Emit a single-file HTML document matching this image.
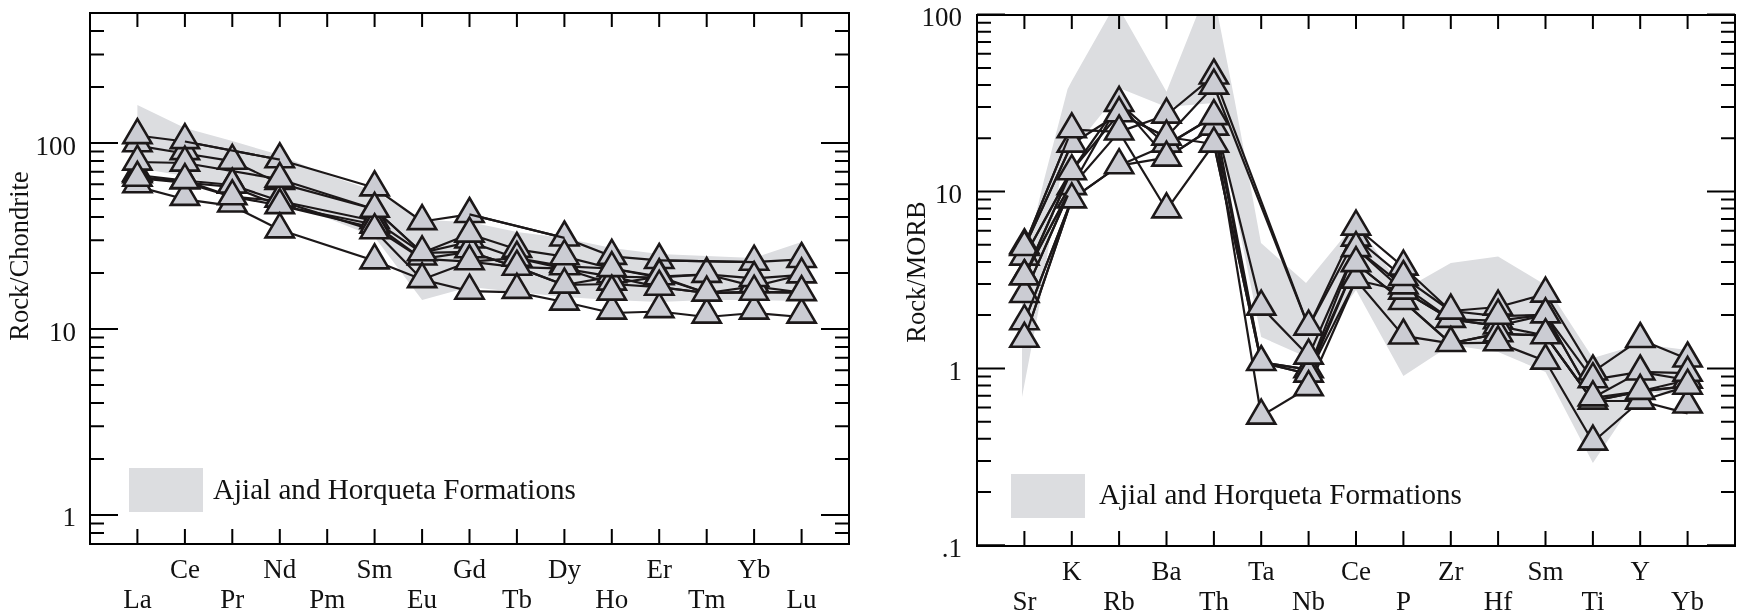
<!DOCTYPE html><html><head><meta charset="utf-8"><style>html,body{margin:0;padding:0;background:#fff;overflow:hidden}svg{display:block} text{-webkit-font-smoothing:antialiased} .t{will-change:transform}</style></head><body>
<svg class="t" width="1745" height="616" viewBox="0 0 1745 616">
<rect width="1745" height="616" fill="#fff"/>
<clipPath id="c90"><rect x="90" y="13" width="759" height="531"/></clipPath>
<polygon clip-path="url(#c90)" points="137.4,105.0 184.9,128.0 232.3,141.0 279.8,155.0 327.2,175.0 374.6,191.0 422.1,220.0 469.5,222.0 516.9,232.0 564.4,238.0 611.8,248.0 659.2,254.0 706.7,256.0 754.1,258.0 801.6,242.0 801.6,301.0 754.1,300.0 706.7,300.0 659.2,302.0 611.8,300.0 564.4,297.0 516.9,292.0 469.5,287.0 422.1,300.0 374.6,237.0 327.2,218.0 279.8,200.0 232.3,190.0 184.9,176.0 137.4,168.0" fill="#dcdde0"/>
<path d="M137.4,135.5L184.9,141.5L279.8,159.7L374.6,187.8L422.1,221.5L469.5,214.4L564.4,237.9L611.8,256.3L659.2,260.4L754.1,262.1L801.6,259.4" fill="none" stroke="#1c1819" stroke-width="2.2" stroke-linejoin="round"/>
<path d="M137.4,145.7L184.9,153.5L232.3,161.2L279.8,183.4L374.6,209.2L422.1,252.8L469.5,234.0L516.9,249.3L564.4,256.6L611.8,268.5L659.2,276.6L706.7,274.3L754.1,278.4L801.6,274.8" fill="none" stroke="#1c1819" stroke-width="2.2" stroke-linejoin="round"/>
<path d="M137.4,162.0L184.9,163.0L279.8,179.2L374.6,209.2L422.1,252.8L469.5,241.9L516.9,258.2L564.4,266.3L611.8,268.5L659.2,277.5L706.7,274.3L754.1,286.4L801.6,274.8" fill="none" stroke="#1c1819" stroke-width="2.2" stroke-linejoin="round"/>
<path d="M137.4,175.0L184.9,180.5L232.3,185.0L279.8,201.0L374.6,221.0L422.1,252.8L469.5,251.8L516.9,267.1L564.4,268.7L611.8,276.6L659.2,277.5L706.7,293.0L754.1,292.1L801.6,292.5" fill="none" stroke="#1c1819" stroke-width="2.2" stroke-linejoin="round"/>
<path d="M137.4,176.5L184.9,182.7L232.3,187.0L279.8,205.5L374.6,224.5L422.1,258.9L469.5,251.8L516.9,267.1L564.4,285.0L611.8,276.6L659.2,287.1L706.7,293.0L754.1,292.1L801.6,292.5" fill="none" stroke="#1c1819" stroke-width="2.2" stroke-linejoin="round"/>
<path d="M137.4,178.2L184.9,180.5L232.3,196.7L279.8,205.5L374.6,228.0L422.1,258.9L469.5,261.7L516.9,267.1L564.4,285.0L611.8,284.0L659.2,287.1L706.7,293.0L754.1,286.4L801.6,292.5" fill="none" stroke="#1c1819" stroke-width="2.2" stroke-linejoin="round"/>
<path d="M137.4,178.2L184.9,182.7L232.3,196.7L279.8,201.0L374.6,230.6L422.1,279.5L469.5,261.7L516.9,258.2L564.4,268.7L611.8,284.0L659.2,276.6L706.7,293.0L754.1,292.1L801.6,292.5" fill="none" stroke="#1c1819" stroke-width="2.2" stroke-linejoin="round"/>
<path d="M137.4,186.6L184.9,199.3L232.3,205.9L279.8,229.8L374.6,260.8L422.1,279.5L469.5,291.1L516.9,292.3L564.4,302.0L611.8,313.0L659.2,311.5L706.7,317.0L754.1,313.0L801.6,317.0" fill="none" stroke="#1c1819" stroke-width="2.2" stroke-linejoin="round"/>
<g fill="#cbccd3" stroke="#1c1819" stroke-width="2.6" stroke-linejoin="miter">
<path d="M137.4,168.2L151.5,192.2L123.3,192.2Z"/>
<path d="M137.4,127.3L151.5,151.3L123.3,151.3Z"/>
<path d="M137.4,119.1L151.5,143.1L123.3,143.1Z"/>
<path d="M137.4,156.6L151.5,180.6L123.3,180.6Z"/>
<path d="M137.4,158.1L151.5,182.1L123.3,182.1Z"/>
<path d="M137.4,145.6L151.5,169.6L123.3,169.6Z"/>
<path d="M137.4,161.8L151.5,185.8L123.3,185.8Z"/>
<path d="M184.9,135.1L199.0,159.1L170.8,159.1Z"/>
<path d="M184.9,164.3L199.0,188.3L170.8,188.3Z"/>
<path d="M184.9,180.9L199.0,204.9L170.8,204.9Z"/>
<path d="M184.9,124.1L199.0,148.1L170.8,148.1Z"/>
<path d="M184.9,146.6L199.0,170.6L170.8,170.6Z"/>
<path d="M184.9,164.1L199.0,188.1L170.8,188.1Z"/>
<path d="M232.3,187.5L246.4,211.5L218.2,211.5Z"/>
<path d="M232.3,168.6L246.4,192.6L218.2,192.6Z"/>
<path d="M232.3,144.8L246.4,168.8L218.2,168.8Z"/>
<path d="M232.3,168.6L246.4,192.6L218.2,192.6Z"/>
<path d="M232.3,180.3L246.4,204.3L218.2,204.3Z"/>
<path d="M279.8,165.0L293.9,189.0L265.6,189.0Z"/>
<path d="M279.8,182.6L293.9,206.6L265.6,206.6Z"/>
<path d="M279.8,143.3L293.9,167.3L265.6,167.3Z"/>
<path d="M279.8,162.8L293.9,186.8L265.6,186.8Z"/>
<path d="M279.8,189.1L293.9,213.1L265.6,213.1Z"/>
<path d="M279.8,213.4L293.9,237.4L265.6,237.4Z"/>
<path d="M374.6,204.1L388.7,228.1L360.5,228.1Z"/>
<path d="M374.6,208.6L388.7,232.6L360.5,232.6Z"/>
<path d="M374.6,171.4L388.7,195.4L360.5,195.4Z"/>
<path d="M374.6,192.8L388.7,216.8L360.5,216.8Z"/>
<path d="M374.6,214.2L388.7,238.2L360.5,238.2Z"/>
<path d="M374.6,244.4L388.7,268.4L360.5,268.4Z"/>
<path d="M422.1,240.5L436.2,264.5L408.0,264.5Z"/>
<path d="M422.1,205.1L436.2,229.1L408.0,229.1Z"/>
<path d="M422.1,236.3L436.2,260.3L408.0,260.3Z"/>
<path d="M422.1,263.1L436.2,287.1L408.0,287.1Z"/>
<path d="M469.5,223.5L483.6,247.5L455.4,247.5Z"/>
<path d="M469.5,233.3L483.6,257.3L455.4,257.3Z"/>
<path d="M469.5,198.0L483.6,222.0L455.4,222.0Z"/>
<path d="M469.5,217.6L483.6,241.6L455.4,241.6Z"/>
<path d="M469.5,245.3L483.6,269.3L455.4,269.3Z"/>
<path d="M469.5,274.7L483.6,298.7L455.4,298.7Z"/>
<path d="M516.9,232.9L531.0,256.9L502.8,256.9Z"/>
<path d="M516.9,241.8L531.0,265.8L502.8,265.8Z"/>
<path d="M516.9,250.7L531.0,274.7L502.8,274.7Z"/>
<path d="M516.9,273.9L531.0,297.9L502.8,297.9Z"/>
<path d="M564.4,247.9L578.5,271.9L550.3,271.9Z"/>
<path d="M564.4,250.3L578.5,274.3L550.3,274.3Z"/>
<path d="M564.4,221.5L578.5,245.5L550.3,245.5Z"/>
<path d="M564.4,240.2L578.5,264.2L550.3,264.2Z"/>
<path d="M564.4,285.6L578.5,309.6L550.3,309.6Z"/>
<path d="M564.4,268.6L578.5,292.6L550.3,292.6Z"/>
<path d="M611.8,258.2L625.9,282.2L597.7,282.2Z"/>
<path d="M611.8,265.6L625.9,289.6L597.7,289.6Z"/>
<path d="M611.8,239.9L625.9,263.9L597.7,263.9Z"/>
<path d="M611.8,252.1L625.9,276.1L597.7,276.1Z"/>
<path d="M611.8,294.6L625.9,318.6L597.7,318.6Z"/>
<path d="M611.8,275.6L625.9,299.6L597.7,299.6Z"/>
<path d="M659.2,293.1L673.4,317.1L645.1,317.1Z"/>
<path d="M659.2,244.0L673.4,268.0L645.1,268.0Z"/>
<path d="M659.2,259.1L673.4,283.1L645.1,283.1Z"/>
<path d="M659.2,260.2L673.4,284.2L645.1,284.2Z"/>
<path d="M659.2,270.7L673.4,294.7L645.1,294.7Z"/>
<path d="M706.7,298.6L720.8,322.6L692.6,322.6Z"/>
<path d="M706.7,257.9L720.8,281.9L692.6,281.9Z"/>
<path d="M706.7,276.6L720.8,300.6L692.6,300.6Z"/>
<path d="M754.1,268.0L768.2,292.0L740.0,292.0Z"/>
<path d="M754.1,294.6L768.2,318.6L740.0,318.6Z"/>
<path d="M754.1,245.7L768.2,269.7L740.0,269.7Z"/>
<path d="M754.1,262.0L768.2,286.0L740.0,286.0Z"/>
<path d="M754.1,275.7L768.2,299.7L740.0,299.7Z"/>
<path d="M801.6,298.6L815.7,322.6L787.5,322.6Z"/>
<path d="M801.6,243.0L815.7,267.0L787.5,267.0Z"/>
<path d="M801.6,258.4L815.7,282.4L787.5,282.4Z"/>
<path d="M801.6,276.1L815.7,300.1L787.5,300.1Z"/>
</g>
<path d="M184.9,141.5L279.8,159.7" fill="none" stroke="#1c1819" stroke-width="2.2" stroke-linejoin="round"/>
<path d="M469.5,214.4L564.4,237.9" fill="none" stroke="#1c1819" stroke-width="2.2" stroke-linejoin="round"/>
<path d="M659.2,260.4L754.1,262.1" fill="none" stroke="#1c1819" stroke-width="2.2" stroke-linejoin="round"/>
<rect x="90" y="13" width="759" height="531" fill="none" stroke="#000" stroke-width="2"/>
<path d="M137.4,13V27M137.4,544V529M184.9,13V27M184.9,544V529M232.3,13V27M232.3,544V529M279.8,13V27M279.8,544V529M327.2,13V27M327.2,544V529M374.6,13V27M374.6,544V529M422.1,13V27M422.1,544V529M469.5,13V27M469.5,544V529M516.9,13V27M516.9,544V529M564.4,13V27M564.4,544V529M611.8,13V27M611.8,544V529M659.2,13V27M659.2,544V529M706.7,13V27M706.7,544V529M754.1,13V27M754.1,544V529M801.6,13V27M801.6,544V529M90,514.9H118M849,514.9H821M90,329.0H118M849,329.0H821M90,143.1H118M849,143.1H821M90,532.9H104M849,532.9H835M90,523.4H104M849,523.4H835M90,458.9H104M849,458.9H835M90,426.2H104M849,426.2H835M90,402.9H104M849,402.9H835M90,384.9H104M849,384.9H835M90,370.2H104M849,370.2H835M90,357.7H104M849,357.7H835M90,347.0H104M849,347.0H835M90,337.5H104M849,337.5H835M90,273.0H104M849,273.0H835M90,240.3H104M849,240.3H835M90,217.0H104M849,217.0H835M90,199.0H104M849,199.0H835M90,184.3H104M849,184.3H835M90,171.8H104M849,171.8H835M90,161.1H104M849,161.1H835M90,151.6H104M849,151.6H835M90,87.1H104M849,87.1H835M90,54.4H104M849,54.4H835M90,31.1H104M849,31.1H835M90,13.1H104M849,13.1H835" stroke="#000" stroke-width="2" fill="none"/>
<g font-family='"Liberation Serif", serif' font-size="27" fill="#111">
<text x="184.9" y="577.5" text-anchor="middle">Ce</text>
<text x="279.8" y="577.5" text-anchor="middle">Nd</text>
<text x="374.6" y="577.5" text-anchor="middle">Sm</text>
<text x="469.5" y="577.5" text-anchor="middle">Gd</text>
<text x="564.4" y="577.5" text-anchor="middle">Dy</text>
<text x="659.2" y="577.5" text-anchor="middle">Er</text>
<text x="754.1" y="577.5" text-anchor="middle">Yb</text>
<text x="137.4" y="608" text-anchor="middle">La</text>
<text x="232.3" y="608" text-anchor="middle">Pr</text>
<text x="327.2" y="608" text-anchor="middle">Pm</text>
<text x="422.1" y="608" text-anchor="middle">Eu</text>
<text x="516.9" y="608" text-anchor="middle">Tb</text>
<text x="611.8" y="608" text-anchor="middle">Ho</text>
<text x="706.7" y="608" text-anchor="middle">Tm</text>
<text x="801.6" y="608" text-anchor="middle">Lu</text>
<text x="76" y="526.4" text-anchor="end">1</text>
<text x="76" y="340.5" text-anchor="end">10</text>
<text x="76" y="154.6" text-anchor="end">100</text>
<text transform="translate(28,256) rotate(-90)" text-anchor="middle" font-size="26.5">Rock/Chondrite</text>
</g>
<rect x="129" y="468" width="74" height="44" fill="#dcdde0"/>
<text x="213" y="499" font-family='"Liberation Serif", serif' font-size="29.1" fill="#111">Ajial and Horqueta Formations</text>
<clipPath id="c977"><rect x="977" y="15" width="758" height="531"/></clipPath>
<polygon clip-path="url(#c977)" points="1022.0,397.0 1022.0,300.0 1024.0,271.0 1031.6,232.0 1044.0,180.0 1067.6,89.0 1071.8,81.0 1116.0,3.0 1166.5,91.7 1211.0,-20.0 1234.6,100.0 1261.0,243.0 1306.0,283.0 1356.0,222.0 1403.4,290.0 1450.8,263.0 1498.1,256.5 1545.5,285.0 1592.9,358.0 1640.2,344.0 1687.6,350.0 1687.6,395.0 1640.2,392.0 1592.9,463.0 1545.5,372.0 1498.1,352.0 1450.8,345.0 1403.4,376.0 1356.0,290.0 1308.6,358.0 1261.2,337.0 1213.9,103.0 1166.5,107.0 1121.7,89.0 1071.8,151.0 1060.0,180.0 1052.0,225.5 1039.5,305.0" fill="#dcdde0"/>
<path d="M1024.4,245.6L1071.8,129.7L1119.1,131.9L1166.5,115.0L1213.9,75.9L1308.6,327.0L1356.0,227.0L1403.4,267.0L1450.8,311.0L1498.1,307.0L1545.5,294.0L1592.9,371.9L1640.2,339.4L1687.6,358.9" fill="none" stroke="#1c1819" stroke-width="2.2" stroke-linejoin="round"/>
<path d="M1024.4,247.4L1071.8,144.0L1119.1,113.7L1166.5,137.0L1213.9,86.0L1308.6,327.0L1356.0,238.0L1403.4,277.4L1450.8,311.0L1498.1,316.1L1545.5,314.8L1592.9,379.6L1640.2,371.9L1687.6,373.2" fill="none" stroke="#1c1819" stroke-width="2.2" stroke-linejoin="round"/>
<path d="M1024.4,257.1L1071.8,170.5L1119.1,103.1L1166.5,145.0L1213.9,116.5L1261.2,307.0L1308.6,356.0L1356.0,248.5L1403.4,285.8L1450.8,319.3L1498.1,320.6L1545.5,314.8L1592.9,397.8L1640.2,371.9L1687.6,380.0" fill="none" stroke="#1c1819" stroke-width="2.2" stroke-linejoin="round"/>
<path d="M1024.4,276.4L1071.8,186.5L1119.1,103.1L1166.5,157.6L1213.9,127.0L1261.2,362.4L1308.6,369.6L1356.0,248.5L1403.4,291.0L1450.8,319.3L1498.1,325.8L1545.5,335.6L1592.9,401.0L1640.2,391.3L1687.6,386.1" fill="none" stroke="#1c1819" stroke-width="2.2" stroke-linejoin="round"/>
<path d="M1024.4,294.4L1071.8,186.5L1119.1,131.9L1166.5,209.8L1213.9,144.0L1261.2,362.4L1308.6,374.0L1356.0,263.5L1403.4,301.4L1450.8,343.4L1498.1,333.6L1545.5,335.6L1592.9,401.0L1640.2,391.3L1687.6,386.1" fill="none" stroke="#1c1819" stroke-width="2.2" stroke-linejoin="round"/>
<path d="M1024.4,321.6L1071.8,199.1L1119.1,165.6L1166.5,157.6L1213.9,127.0L1261.2,416.0L1308.6,387.5L1356.0,280.0L1403.4,335.9L1450.8,343.4L1498.1,342.7L1545.5,361.0L1592.9,442.0L1640.2,401.0L1687.6,413.4" fill="none" stroke="#1c1819" stroke-width="2.2" stroke-linejoin="round"/>
<path d="M1024.4,339.2L1071.8,199.1L1119.1,165.6L1166.5,145.0L1213.9,116.5L1261.2,362.4L1308.6,369.6L1356.0,263.5L1403.4,301.4L1450.8,343.4L1498.1,333.6L1545.5,335.6L1592.9,401.0L1640.2,401.0L1687.6,386.1" fill="none" stroke="#1c1819" stroke-width="2.2" stroke-linejoin="round"/>
<path d="M1024.4,276.4L1071.8,170.5L1119.1,113.7L1166.5,137.0L1213.9,144.0L1261.2,362.4L1308.6,374.0L1356.0,280.0L1403.4,291.0L1450.8,319.3L1498.1,325.8L1545.5,314.8L1592.9,397.8L1640.2,391.3L1687.6,380.0" fill="none" stroke="#1c1819" stroke-width="2.2" stroke-linejoin="round"/>
<g fill="#cbccd3" stroke="#1c1819" stroke-width="2.6" stroke-linejoin="miter">
<path d="M1071.8,127.6L1085.8,151.6L1057.7,151.6Z"/>
<path d="M1071.8,170.1L1085.8,194.1L1057.7,194.1Z"/>
<path d="M1071.8,113.3L1085.8,137.3L1057.7,137.3Z"/>
<path d="M1071.8,155.2L1085.8,179.2L1057.7,179.2Z"/>
<path d="M1071.8,183.4L1085.8,207.4L1057.7,207.4Z"/>
<path d="M1119.1,86.9L1133.2,110.9L1105.0,110.9Z"/>
<path d="M1119.1,97.3L1133.2,121.3L1105.0,121.3Z"/>
<path d="M1119.1,115.5L1133.2,139.5L1105.0,139.5Z"/>
<path d="M1119.1,149.2L1133.2,173.2L1105.0,173.2Z"/>
<path d="M1166.5,127.6L1180.6,151.6L1152.4,151.6Z"/>
<path d="M1166.5,98.6L1180.6,122.6L1152.4,122.6Z"/>
<path d="M1166.5,120.6L1180.6,144.6L1152.4,144.6Z"/>
<path d="M1166.5,141.6L1180.6,165.6L1152.4,165.6Z"/>
<path d="M1166.5,193.4L1180.6,217.4L1152.4,217.4Z"/>
<path d="M1213.9,59.5L1228.0,83.5L1199.8,83.5Z"/>
<path d="M1213.9,69.6L1228.0,93.6L1199.8,93.6Z"/>
<path d="M1213.9,110.6L1228.0,134.6L1199.8,134.6Z"/>
<path d="M1213.9,100.1L1228.0,124.1L1199.8,124.1Z"/>
<path d="M1213.9,127.6L1228.0,151.6L1199.8,151.6Z"/>
<path d="M1261.2,290.6L1275.3,314.6L1247.2,314.6Z"/>
<path d="M1261.2,346.0L1275.3,370.0L1247.2,370.0Z"/>
<path d="M1261.2,399.6L1275.3,423.6L1247.2,423.6Z"/>
<path d="M1308.6,353.2L1322.7,377.2L1294.5,377.2Z"/>
<path d="M1308.6,357.6L1322.7,381.6L1294.5,381.6Z"/>
<path d="M1308.6,310.6L1322.7,334.6L1294.5,334.6Z"/>
<path d="M1308.6,339.6L1322.7,363.6L1294.5,363.6Z"/>
<path d="M1308.6,371.1L1322.7,395.1L1294.5,395.1Z"/>
<path d="M1356.0,221.6L1370.1,245.6L1341.9,245.6Z"/>
<path d="M1356.0,263.6L1370.1,287.6L1341.9,287.6Z"/>
<path d="M1356.0,210.6L1370.1,234.6L1341.9,234.6Z"/>
<path d="M1356.0,232.1L1370.1,256.1L1341.9,256.1Z"/>
<path d="M1356.0,247.1L1370.1,271.1L1341.9,271.1Z"/>
<path d="M1403.4,285.0L1417.5,309.0L1389.3,309.0Z"/>
<path d="M1403.4,274.6L1417.5,298.6L1389.3,298.6Z"/>
<path d="M1403.4,269.4L1417.5,293.4L1389.3,293.4Z"/>
<path d="M1403.4,250.6L1417.5,274.6L1389.3,274.6Z"/>
<path d="M1403.4,261.0L1417.5,285.0L1389.3,285.0Z"/>
<path d="M1403.4,319.5L1417.5,343.5L1389.3,343.5Z"/>
<path d="M1450.8,302.9L1464.8,326.9L1436.7,326.9Z"/>
<path d="M1450.8,294.6L1464.8,318.6L1436.7,318.6Z"/>
<path d="M1450.8,327.0L1464.8,351.0L1436.7,351.0Z"/>
<path d="M1498.1,304.2L1512.2,328.2L1484.0,328.2Z"/>
<path d="M1498.1,309.4L1512.2,333.4L1484.0,333.4Z"/>
<path d="M1498.1,317.2L1512.2,341.2L1484.0,341.2Z"/>
<path d="M1498.1,290.6L1512.2,314.6L1484.0,314.6Z"/>
<path d="M1498.1,299.7L1512.2,323.7L1484.0,323.7Z"/>
<path d="M1498.1,326.3L1512.2,350.3L1484.0,350.3Z"/>
<path d="M1545.5,277.6L1559.6,301.6L1531.4,301.6Z"/>
<path d="M1545.5,298.4L1559.6,322.4L1531.4,322.4Z"/>
<path d="M1545.5,319.2L1559.6,343.2L1531.4,343.2Z"/>
<path d="M1545.5,344.6L1559.6,368.6L1531.4,368.6Z"/>
<path d="M1592.9,355.5L1607.0,379.5L1578.8,379.5Z"/>
<path d="M1592.9,363.2L1607.0,387.2L1578.8,387.2Z"/>
<path d="M1592.9,384.6L1607.0,408.6L1578.8,408.6Z"/>
<path d="M1592.9,381.4L1607.0,405.4L1578.8,405.4Z"/>
<path d="M1592.9,425.6L1607.0,449.6L1578.8,449.6Z"/>
<path d="M1640.2,323.0L1654.3,347.0L1626.2,347.0Z"/>
<path d="M1640.2,384.6L1654.3,408.6L1626.2,408.6Z"/>
<path d="M1640.2,355.5L1654.3,379.5L1626.2,379.5Z"/>
<path d="M1640.2,374.9L1654.3,398.9L1626.2,398.9Z"/>
<path d="M1687.6,363.6L1701.7,387.6L1673.5,387.6Z"/>
<path d="M1687.6,388.5L1701.7,412.5L1673.5,412.5Z"/>
<path d="M1687.6,342.5L1701.7,366.5L1673.5,366.5Z"/>
<path d="M1687.6,356.8L1701.7,380.8L1673.5,380.8Z"/>
<path d="M1687.6,369.7L1701.7,393.7L1673.5,393.7Z"/>
</g>
<path d="M1024.4,257.1L1066.8,179.5" fill="none" stroke="#1c1819" stroke-width="2.2" stroke-linejoin="round"/>
<g fill="#cbccd3" stroke="#1c1819" stroke-width="2.6"><path d="M1024.4,240.6L1038.5,264.6L1010.3,264.6Z"/></g>
<path d="M1024.4,294.4L1067.8,195.5" fill="none" stroke="#1c1819" stroke-width="2.2" stroke-linejoin="round"/>
<g fill="#cbccd3" stroke="#1c1819" stroke-width="2.6"><path d="M1024.4,278.0L1038.5,302.0L1010.3,302.0Z"/></g>
<path d="M1024.4,245.6L1068.1,138.7" fill="none" stroke="#1c1819" stroke-width="2.2" stroke-linejoin="round"/>
<g fill="#cbccd3" stroke="#1c1819" stroke-width="2.6"><path d="M1024.4,229.2L1038.5,253.2L1010.3,253.2Z"/></g>
<path d="M1024.4,247.4L1067.6,153.0" fill="none" stroke="#1c1819" stroke-width="2.2" stroke-linejoin="round"/>
<g fill="#cbccd3" stroke="#1c1819" stroke-width="2.6"><path d="M1024.4,231.0L1038.5,255.0L1010.3,255.0Z"/></g>
<path d="M1024.4,276.4L1067.0,195.5" fill="none" stroke="#1c1819" stroke-width="2.2" stroke-linejoin="round"/>
<g fill="#cbccd3" stroke="#1c1819" stroke-width="2.6"><path d="M1024.4,260.2L1038.5,284.2L1010.3,284.2Z"/></g>
<path d="M1024.4,276.4L1067.7,179.5" fill="none" stroke="#1c1819" stroke-width="2.2" stroke-linejoin="round"/>
<g fill="#cbccd3" stroke="#1c1819" stroke-width="2.6"><path d="M1024.4,260.2L1038.5,284.2L1010.3,284.2Z"/></g>
<path d="M1024.4,321.6L1068.3,208.1" fill="none" stroke="#1c1819" stroke-width="2.2" stroke-linejoin="round"/>
<g fill="#cbccd3" stroke="#1c1819" stroke-width="2.6"><path d="M1024.4,305.2L1038.5,329.2L1010.3,329.2Z"/></g>
<path d="M1024.4,339.2L1068.7,208.1" fill="none" stroke="#1c1819" stroke-width="2.2" stroke-linejoin="round"/>
<g fill="#cbccd3" stroke="#1c1819" stroke-width="2.6"><path d="M1024.4,322.8L1038.5,346.8L1010.3,346.8Z"/></g>
<rect x="977" y="15" width="758" height="531" fill="none" stroke="#000" stroke-width="2"/>
<path d="M1024.4,15V29M1024.4,546V531M1071.8,15V29M1071.8,546V531M1119.1,15V29M1119.1,546V531M1166.5,15V29M1166.5,546V531M1213.9,15V29M1213.9,546V531M1261.2,15V29M1261.2,546V531M1308.6,15V29M1308.6,546V531M1356.0,15V29M1356.0,546V531M1403.4,15V29M1403.4,546V531M1450.8,15V29M1450.8,546V531M1498.1,15V29M1498.1,546V531M1545.5,15V29M1545.5,546V531M1592.9,15V29M1592.9,546V531M1640.2,15V29M1640.2,546V531M1687.6,15V29M1687.6,546V531M977,545.3H1005M1735,545.3H1707M977,368.4H1005M1735,368.4H1707M977,191.5H1005M1735,191.5H1707M977,14.6H1005M1735,14.6H1707M977,492.0H991M1735,492.0H1721M977,460.9H991M1735,460.9H1721M977,438.8H991M1735,438.8H1721M977,421.7H991M1735,421.7H1721M977,407.6H991M1735,407.6H1721M977,395.8H991M1735,395.8H1721M977,385.5H991M1735,385.5H1721M977,376.5H991M1735,376.5H1721M977,315.1H991M1735,315.1H1721M977,284.0H991M1735,284.0H1721M977,261.9H991M1735,261.9H1721M977,244.8H991M1735,244.8H1721M977,230.7H991M1735,230.7H1721M977,218.9H991M1735,218.9H1721M977,208.6H991M1735,208.6H1721M977,199.6H991M1735,199.6H1721M977,138.2H991M1735,138.2H1721M977,107.1H991M1735,107.1H1721M977,85.0H991M1735,85.0H1721M977,67.9H991M1735,67.9H1721M977,53.8H991M1735,53.8H1721M977,42.0H991M1735,42.0H1721M977,31.7H991M1735,31.7H1721M977,22.7H991M1735,22.7H1721" stroke="#000" stroke-width="2" fill="none"/>
<g font-family='"Liberation Serif", serif' font-size="27" fill="#111">
<text x="1071.8" y="580" text-anchor="middle">K</text>
<text x="1166.5" y="580" text-anchor="middle">Ba</text>
<text x="1261.2" y="580" text-anchor="middle">Ta</text>
<text x="1356.0" y="580" text-anchor="middle">Ce</text>
<text x="1450.8" y="580" text-anchor="middle">Zr</text>
<text x="1545.5" y="580" text-anchor="middle">Sm</text>
<text x="1640.2" y="580" text-anchor="middle">Y</text>
<text x="1024.4" y="610" text-anchor="middle">Sr</text>
<text x="1119.1" y="610" text-anchor="middle">Rb</text>
<text x="1213.9" y="610" text-anchor="middle">Th</text>
<text x="1308.6" y="610" text-anchor="middle">Nb</text>
<text x="1403.4" y="610" text-anchor="middle">P</text>
<text x="1498.1" y="610" text-anchor="middle">Hf</text>
<text x="1592.9" y="610" text-anchor="middle">Ti</text>
<text x="1687.6" y="610" text-anchor="middle">Yb</text>
<text x="962" y="556.8" text-anchor="end">.1</text>
<text x="962" y="379.9" text-anchor="end">1</text>
<text x="962" y="203.0" text-anchor="end">10</text>
<text x="962" y="26.1" text-anchor="end">100</text>
<text transform="translate(925,272) rotate(-90)" text-anchor="middle" font-size="26.5">Rock/MORB</text>
</g>
<rect x="1011" y="474" width="74" height="44" fill="#dcdde0"/>
<text x="1099" y="503.5" font-family='"Liberation Serif", serif' font-size="29.1" fill="#111">Ajial and Horqueta Formations</text>
</svg></body></html>
